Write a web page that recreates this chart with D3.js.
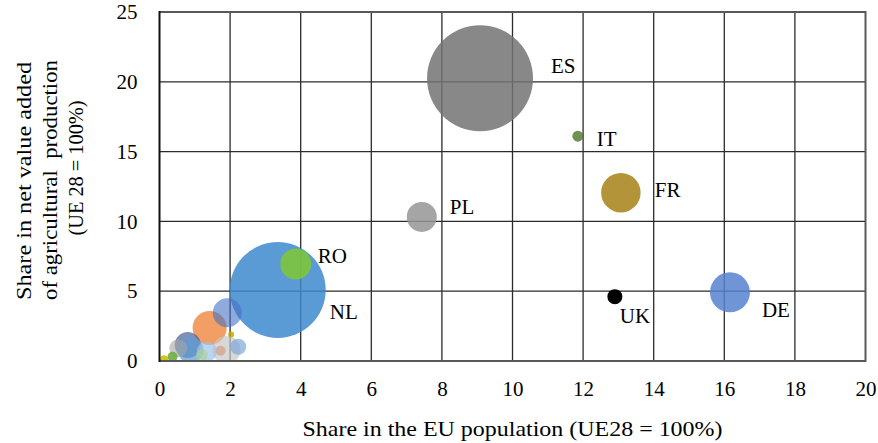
<!DOCTYPE html>
<html>
<head>
<meta charset="utf-8">
<script src="https://cdn.jsdelivr.net/npm/d3@7/dist/d3.min.js"></script>
<style>
  body { margin: 0; background: #fff; }
  svg { display: block; }
  text { font-family: "Liberation Serif", "Times New Roman", serif; fill: #000; }
</style>
</head>
<body>
<svg id="chart" width="878" height="443"></svg>
<script>
// Member states (UE28), their share of EU population (%), share of net value
// added of agricultural production (%), and the bubble size measure.
const countries  = ["ES", "NL", "DE", "FR", "RO", "PL", "BG", "HU", "SE", "IE", "DK", "AT", "LT", "BE", "UK", "FI", "IT", "PT", "SI", "LU", "EL"];
const popShare   = [9.08, 3.35, 16.16, 13.07, 3.86, 7.43, 1.42, 1.92, 1.90, 0.80, 0.88, 1.34, 0.53, 2.23, 12.90, 1.20, 11.85, 1.73, 0.37, 0.13, 2.03];
const valueShare = [20.25, 5.09, 4.92, 12.06, 6.95, 10.32, 2.36, 3.46, 0.79, 1.15, 0.79, 0.67, 0.91, 1.02, 4.61, 0.43, 16.10, 0.74, 0.31, 0.12, 1.90];
const bubbleSize = [28.1, 23.0, 4.0, 3.9, 2.4, 2.25, 2.9, 2.1, 1.96, 1.69, 1.69, 1.0, 0.81, 0.64, 0.56, 0.36, 0.30, 0.25, 0.25, 0.16, 0.09];

const xTicks = [0, 2, 4, 6, 8, 10, 12, 14, 16, 18, 20];
const yTicks = [0, 5, 10, 15, 20, 25];

const xTitle = "Share in the EU population (UE28 = 100%)";
const yTitle = ["Share in net value added", "of agricultural  production", "(UE 28 = 100%)"];

// Fill colour and opacity per country
const palette = {
  ES: ["#737373", 0.85], NL: ["#3e89ce", 0.85], DE: ["#5783cf", 0.85], FR: ["#a68116", 0.85],
  RO: ["#7fc831", 0.85], PL: ["#959595", 0.85], BG: ["#ed7d31", 0.75], HU: ["#4472c4", 0.6],
  SE: ["#c8c8c8", 0.7], IE: ["#4a5f96", 0.7], DK: ["#5b9bd5", 0.7], AT: ["#9dc3e6", 0.7],
  LT: ["#a5a5a5", 0.6], BE: ["#7fa8d8", 0.7], UK: ["#000000", 1], FI: ["#a9d08e", 0.6],
  IT: ["#567e34", 0.85], PT: ["#d4a48f", 0.8], SI: ["#70ad47", 0.9], LU: ["#c9c000", 0.9],
  EL: ["#c9a800", 0.85]
};

// Label placement (pixel offset of the text start from the bubble centre)
const labelOffset = {
  ES: [71, -5], IT: [19, 10], PL: [28, -3], FR: [34, 4],
  UK: [5, 26], DE: [32, 25], RO: [22, -1], NL: [52, 29]
};

const svg = d3.select("#chart");
const plot = { left: 159.5, right: 865.5, top: 12, bottom: 361 };

const x = d3.scaleLinear().domain([0, 20]).range([plot.left, plot.right]);
const y = d3.scaleLinear().domain([0, 25]).range([plot.bottom, plot.top]);
const r = d3.scaleSqrt().domain([0, d3.max(bubbleSize)]).range([0, 53]);

const data = countries.map((c, i) => ({ c, px: popShare[i], vy: valueShare[i], s: bubbleSize[i] }));

svg.append("defs").append("clipPath").attr("id", "plotClip")
  .append("rect")
  .attr("x", plot.left).attr("y", plot.top)
  .attr("width", plot.right - plot.left).attr("height", plot.bottom - plot.top);

// Gridlines
const grid = svg.append("g").attr("stroke", "#2b2b2b").attr("stroke-width", 1.3);
grid.selectAll("line.v").data(xTicks.slice(1, -1)).join("line")
  .attr("x1", d => x(d)).attr("x2", d => x(d))
  .attr("y1", plot.top).attr("y2", plot.bottom);
grid.selectAll("line.h").data(yTicks.slice(1, -1)).join("line")
  .attr("y1", d => y(d)).attr("y2", d => y(d))
  .attr("x1", plot.left).attr("x2", plot.right);

// Bubbles, largest underneath
svg.append("g").attr("clip-path", "url(#plotClip)")
  .selectAll("circle")
  .data(data.slice().sort((a, b) => b.s - a.s))
  .join("circle")
  .attr("cx", d => x(d.px))
  .attr("cy", d => y(d.vy))
  .attr("r", d => r(d.s))
  .attr("fill", d => palette[d.c][0])
  .attr("fill-opacity", d => palette[d.c][1]);

// Plot frame
const frame = svg.append("g").attr("fill", "none");
frame.append("path")
  .attr("d", `M${plot.left},${plot.top}H${plot.right}V${plot.bottom}H${plot.left}`)
  .attr("stroke", "#595959").attr("stroke-width", 2);
frame.append("line")
  .attr("x1", plot.left).attr("x2", plot.left)
  .attr("y1", plot.top - 1).attr("y2", plot.bottom + 1)
  .attr("stroke", "#111").attr("stroke-width", 2);

// Country labels
svg.append("g").selectAll("text")
  .data(data.filter(d => labelOffset[d.c]))
  .join("text")
  .attr("x", d => x(d.px) + labelOffset[d.c][0])
  .attr("y", d => y(d.vy) + labelOffset[d.c][1])
  .attr("font-size", 21)
  .text(d => d.c);

// Axis tick labels
const xAxis = d3.axisBottom(x).tickValues(xTicks).tickSize(0).tickPadding(20).tickFormat(d3.format("d"));
const gx = svg.append("g").attr("transform", `translate(0,${plot.bottom})`).call(xAxis);
gx.select(".domain").remove();
gx.selectAll("text").attr("font-size", 21).attr("font-family", null).attr("fill", "#000");

const yAxis = d3.axisLeft(y).tickValues(yTicks).tickSize(0).tickPadding(22).tickFormat(d3.format("d"));
const gy = svg.append("g").attr("transform", `translate(${plot.left},0)`).call(yAxis);
gy.select(".domain").remove();
gy.selectAll("text").attr("font-size", 21).attr("font-family", null).attr("fill", "#000");

// Axis titles
svg.append("text")
  .attr("x", (plot.left + plot.right) / 2).attr("y", 436)
  .attr("text-anchor", "middle").attr("font-size", 21)
  .attr("textLength", 420).attr("lengthAdjust", "spacingAndGlyphs")
  .text(xTitle);

const yTitlePos = [[31, 181, 238], [57, 180, 240], [83, 168, 135]];
svg.append("g").selectAll("text").data(yTitle).join("text")
  .attr("transform", (d, i) => `translate(${yTitlePos[i][0]},${yTitlePos[i][1]}) rotate(-90)`)
  .attr("text-anchor", "middle").attr("font-size", 21)
  .attr("textLength", (d, i) => yTitlePos[i][2]).attr("lengthAdjust", "spacingAndGlyphs")
  .style("white-space", "pre")
  .text(d => d);
</script>
</body>
</html>
